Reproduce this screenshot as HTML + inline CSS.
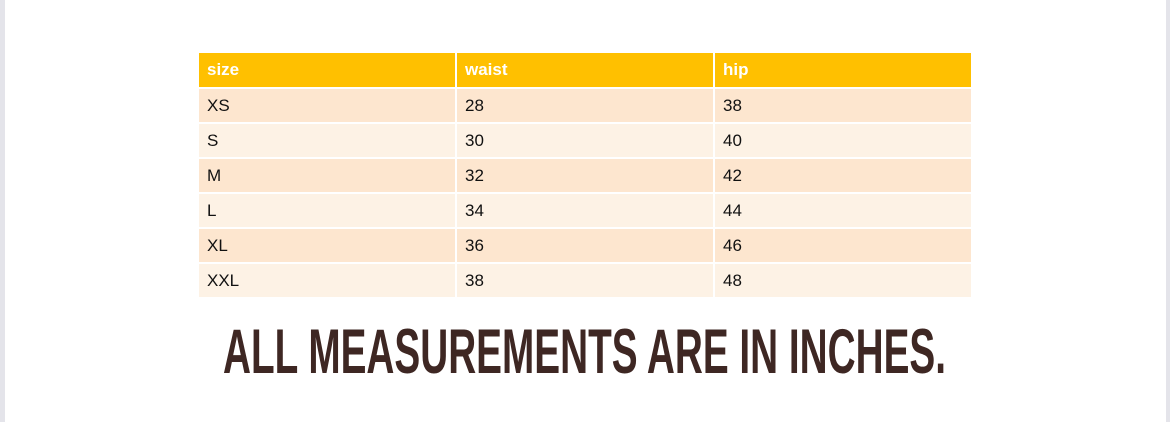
<!DOCTYPE html>
<html><head><meta charset="utf-8"><style>
html,body{margin:0;padding:0;width:1170px;height:422px;background:#fff;overflow:hidden;position:relative;font-family:"Liberation Sans",sans-serif}
.c{position:absolute;box-sizing:border-box;padding-left:8px;font-size:17px;color:#111;display:flex;align-items:center}
.h{background:#ffc000;color:#fff;font-weight:bold}
.o{background:#fde6cf}.e{background:#fdf2e5}
</style></head><body>
<div style="position:absolute;left:0;top:0;width:5px;height:422px;background:#e4e4ea"></div>
<div style="position:absolute;left:1166px;top:0;width:4px;height:422px;background:#e4e4ea"></div>
<div id="t"></div>
<script>
var rows=[["size","waist","hip"],["XS","28","38"],["S","30","40"],["M","32","42"],["L","34","44"],["XL","36","46"],["XXL","38","48"]];
var xs=[199,457,715],ws=[256,256,256];var h="";
var tops=[53,89,124,159,194,229,264];
rows.forEach(function(r,i){r.forEach(function(t,j){var cl=i==0?"h":(i%2?"o":"e");
h+='<div class="c '+cl+'" style="left:'+xs[j]+'px;top:'+tops[i]+'px;width:'+ws[j]+'px;height:'+(i==0?34:33)+'px">'+t+'</div>';});});
document.getElementById("t").innerHTML=h;
</script>
<svg style="position:absolute;left:0;top:0" width="1170" height="422">
<text x="223" y="373" font-family="Liberation Sans" font-weight="bold" font-size="63" fill="#3e2723" textLength="723" lengthAdjust="spacingAndGlyphs">ALL MEASUREMENTS ARE IN INCHES.</text>
</svg>
</body></html>
